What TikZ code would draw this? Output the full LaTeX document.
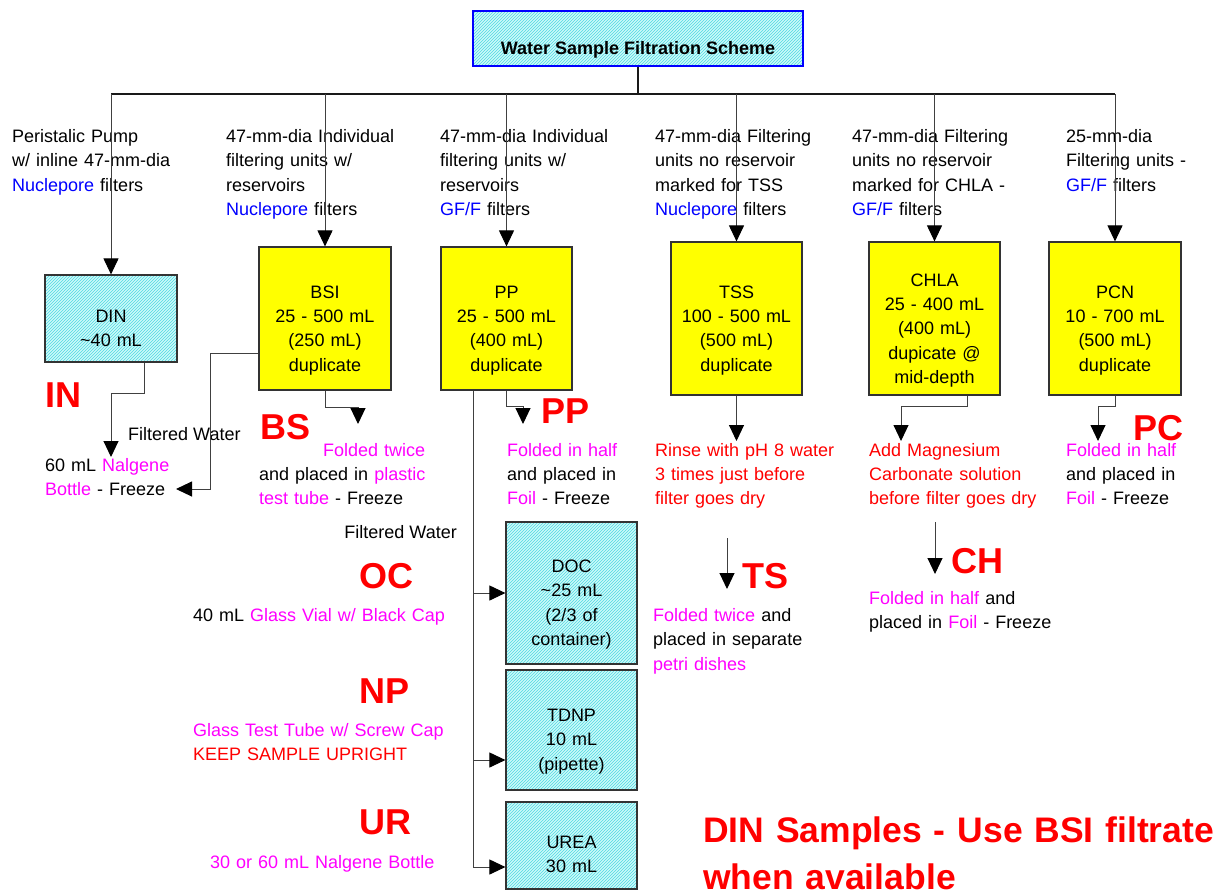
\documentclass[tikz,border=0pt]{standalone}
\usepackage{fontspec}
\setmainfont{Liberation Sans}
\usetikzlibrary{arrows.meta,patterns}
\definecolor{pmag}{RGB}{255,0,255}
\definecolor{pblue}{RGB}{0,0,255}
\definecolor{pred}{RGB}{255,0,0}
\definecolor{pyel}{RGB}{255,255,0}
\definecolor{pcyan}{RGB}{205,250,250}
\definecolor{hatchc}{RGB}{80,215,225}
\newcommand{\mg}[1]{\textcolor{pmag}{#1}}
\newcommand{\bl}[1]{\textcolor{pblue}{#1}}
\begin{document}
\begin{tikzpicture}[x=1pt,y=-1pt,
  txt/.style={font=\fontsize{18}{24.3}\selectfont, inner sep=0pt, anchor=base west, text width=#1, align=left},
  txt/.default=250,
  stxt/.style={font=\fontsize{18}{24.3}\selectfont, inner sep=0pt},
  ctxt/.style={font=\fontsize{18}{24.3}\selectfont, inner sep=0pt, anchor=base, text width=130, align=center},
  big/.style={font=\fontsize{36}{49}\selectfont\bfseries, text=pred, inner sep=0pt, anchor=base west},
  ybox/.style={draw=black!80, line width=1.2pt, fill=pyel, inner sep=0pt, minimum width=131, minimum height=#1},
  hbox/.style={draw=black!80, line width=1.2pt, preaction={fill=pcyan}, pattern=north east lines, pattern color=hatchc, inner sep=0pt, minimum width=131, minimum height=#1},
  conn/.style={draw=black!75, line width=1pt},
  arr/.style={conn, -{Triangle[length=16pt,width=15pt,color=black]}},
  bus/.style={draw=black!90, line width=1.6pt}
]
\useasboundingbox (0,0) rectangle (1222,895);

% ---------- title ----------
\node[hbox=55, draw=blue, minimum width=330] (title) at (638,38.5) {};
\node[font=\fontsize{18}{22}\selectfont\bfseries, inner sep=0pt, anchor=base] (title-t) at (638,54.3) {Water Sample Filtration Scheme};

% ---------- boxes ----------
\node[hbox=87, minimum width=132] (din) at (111,318.5) {};
\node[ybox=143, minimum width=132] (bsi) at (325,318.5) {};
\node[ybox=143] (pp) at (506.5,318.5) {};
\node[ybox=153] (tss) at (736.5,318.5) {};
\node[ybox=153] (chla) at (934.5,318.5) {};
\node[ybox=153, minimum width=132] (pcn) at (1115,318.5) {};
\node[hbox=142] (doc) at (571.5,593) {};
\node[hbox=120] (tdnp) at (571.5,730) {};
\node[hbox=87] (urea) at (571.5,845.5) {};

\node[ctxt] (din-t) at (111,322.5) {DIN\\\textasciitilde40 mL};
\node[ctxt] (bsi-t) at (325,298.3) {BSI\\25 - 500 mL\\(250 mL)\\duplicate};
\node[ctxt] (pp-t) at (506.5,298.3) {PP\\25 - 500 mL\\(400 mL)\\duplicate};
\node[ctxt] (tss-t) at (736.5,298.3) {TSS\\100 - 500 mL\\(500 mL)\\duplicate};
\node[ctxt] (chla-t) at (934.5,286.2) {CHLA\\25 - 400 mL\\(400 mL)\\dupicate @\\mid-depth};
\node[ctxt] (pcn-t) at (1115,298.3) {PCN\\10 - 700 mL\\(500 mL)\\duplicate};
\node[ctxt] (doc-t) at (571.5,572.5) {DOC\\\textasciitilde25 mL\\(2/3 of\\container)};
\node[ctxt] (tdnp-t) at (571.5,721.5) {TDNP\\10 mL\\(pipette)};
\node[ctxt] (urea-t) at (571.5,848.5) {UREA\\30 mL};

% ---------- labels above boxes ----------
\node[txt] (l-din) at (12,142.5) {Peristalic Pump\\w/ inline 47-mm-dia\\\bl{Nuclepore} filters};
\node[txt] (l-bsi) at (226,142.5) {47-mm-dia Individual\\filtering units w/\\reservoirs\\\bl{Nuclepore} filters};
\node[txt] (l-pp) at (440,142.5) {47-mm-dia Individual\\filtering units w/\\reservoirs\\\bl{GF/F} filters};
\node[txt] (l-tss) at (655,142.5) {47-mm-dia Filtering\\units no reservoir\\marked for TSS\\\bl{Nuclepore} filters};
\node[txt] (l-chla) at (852,142.5) {47-mm-dia Filtering\\units no reservoir\\marked for CHLA -\\\bl{GF/F} filters};
\node[txt] (l-pcn) at (1066,142.5) {25-mm-dia\\Filtering units -\\\bl{GF/F} filters};

% ---------- top connectors ----------
\coordinate (busc) at (638,94);
\draw[bus] (title.south) -- (busc);
\draw[bus] (din.north |- busc) -- (pcn.north |- busc);
\draw[arr] (din.north |- busc) -- (din.north);
\draw[arr] (bsi.north |- busc) -- (bsi.north);
\draw[arr] (pp.north |- busc) -- (pp.north);
\draw[arr] (tss.north |- busc) -- (tss.north);
\draw[arr] (chla.north |- busc) -- (chla.north);
\draw[arr] (pcn.north |- busc) -- (pcn.north);

% ---------- DIN branch ----------
\node[big] (in-l) at (45,407) {IN};
\node[stxt, anchor=base west] (fw1) at (128,440.5) {Filtered Water};
\node[txt] (in-t) at (45,471.5) {60 mL \mg{Nalgene}\\\mg{Bottle} - Freeze};
\coordinate (in-tip) at (111,457);
\draw[arr] ([xshift=33pt]din.south) -- ++(0,31) -| (in-tip);
\coordinate (bsiL-tip) at (176,489);
\draw[arr] ([yshift=-34.5pt]bsi.west) -- (210,353) |- (bsiL-tip);

% ---------- BSI branch ----------
\node[big] (bs-l) at (260,439) {BS};
\node[txt=220] (bs-t) at (259,456) {\makebox[166pt][r]{\mg{Folded twice}}\\and placed in \mg{plastic}\\\mg{test tube} - Freeze};
\coordinate (bs-tip) at (358,424);
\draw[arr] (bsi.south) -- ++(0,17) -| (bs-tip);

% ---------- PP branch ----------
\node[big] (pp-l) at (541,423) {PP};
\node[txt] (pp-tx) at (507,456) {\mg{Folded in half}\\and placed in\\\mg{Foil} - Freeze};
\coordinate (pp-tip) at (523,424);
\draw[arr] (pp.south) -- ++(0,16) -| (pp-tip);

% ---------- filtrate branch ----------
\coordinate (b1) at (473,593);
\coordinate (b2) at (473,760);
\coordinate (b3) at (473,867);
\draw[conn] ([xshift=-33.5pt]pp.south) -- (b3);
\draw[arr] (b1) -- (b1 -| doc.west);
\draw[arr] (b2) -- (b2 -| tdnp.west);
\draw[arr] (b3) -- (b3 -| urea.west);
\node[stxt, anchor=base east] (fw2) at (457,538.5) {Filtered Water};
\node[big] (oc-l) at (359,588) {OC};
\node[txt=300] (oc-t) at (193,621.5) {40 mL \mg{Glass Vial w/ Black Cap}};
\node[big] (np-l) at (359,703) {NP};
\node[txt=300] (np-t) at (193,736.5) {\mg{Glass Test Tube w/ Screw Cap}\\\textcolor{pred}{KEEP SAMPLE UPRIGHT}};
\node[big] (ur-l) at (359,834) {UR};
\node[txt=300] (ur-t) at (210,868.5) {\mg{30 or 60 mL Nalgene Bottle}};

% ---------- TSS branch ----------
\coordinate (tss-tip) at (736.5,441);
\draw[arr] (tss.south) -- (tss-tip);
\node[txt, text=pred] (tss-tx) at (655,456) {Rinse with pH 8 water\\3 times just before\\filter goes dry};
\coordinate (ts-a) at (727,538);
\coordinate (ts-b) at (727,589);
\draw[arr] (ts-a) -- (ts-b);
\node[big] (ts-l) at (742,588) {TS};
\node[txt] (ts-t) at (653,621.5) {\mg{Folded twice} and\\placed in separate\\\mg{petri dishes}};

% ---------- CHLA branch ----------
\coordinate (chla-tip) at (901,441);
\draw[arr] ([xshift=32.5pt]chla.south) -- ++(0,11) -| (chla-tip);
\node[txt, text=pred] (chla-tx) at (869,456) {Add Magnesium\\Carbonate solution\\before filter goes dry};
\coordinate (ch-a) at (935,522);
\coordinate (ch-b) at (935,574);
\draw[arr] (ch-a) -- (ch-b);
\node[big] (ch-l) at (951,573) {CH};
\node[txt] (ch-t) at (869,604.5) {\mg{Folded in half} and\\placed in \mg{Foil} - Freeze};

% ---------- PCN branch ----------
\coordinate (pc-tip) at (1098,441);
\draw[arr] (pcn.south) -- ++(0,11) -| (pc-tip);
\node[big] (pc-l) at (1133,440) {PC};
\node[txt] (pc-t) at (1066,456) {\mg{Folded in half}\\and placed in\\\mg{Foil} - Freeze};

% ---------- note ----------
\node[big, font=\fontsize{35.5}{47}\selectfont\bfseries, text width=560, align=left] (note) at (703,842) {DIN Samples - Use BSI filtrate\\when available};
\end{tikzpicture}
\end{document}
